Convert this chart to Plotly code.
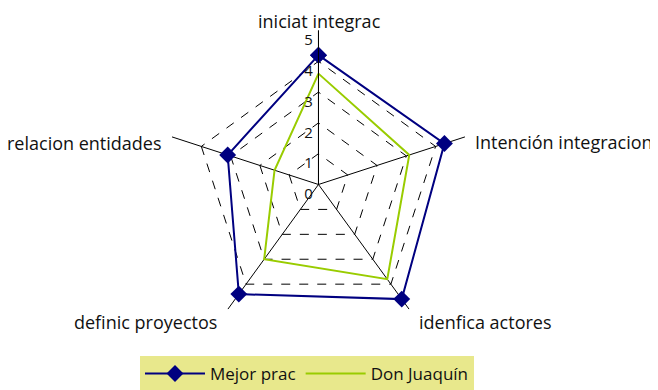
import plotly.graph_objects as go

categories = ["iniciat integrac", "Intención integracion", "idenfica actores",
              "definic proyectos", "relacion entidades"]
mejor_prac = [4.2, 4.3, 4.6, 4.4, 3.1]
don_juaquin = [3.6, 3.1, 3.8, 3.0, 1.5]
radial_ticks = [0, 1, 2, 3, 4, 5]

NAVY = "#000080"
LIME = "#99CC00"
FONT = "Open Sans"
W, H = 658, 390
OFF = 8  # page body margin shifts the figure by 8px

fig = go.Figure()
fig.add_trace(go.Scatterpolar(
    r=mejor_prac + mejor_prac[:1], theta=categories + categories[:1],
    name="Mejor prac", mode="lines+markers",
    line=dict(color=NAVY, width=2),
    marker=dict(symbol="diamond", size=13, color=NAVY),
))
fig.add_trace(go.Scatterpolar(
    r=don_juaquin + don_juaquin[:1], theta=categories + categories[:1],
    name="Don Juaquín", mode="lines",
    line=dict(color=LIME, width=2),
))

# category labels placed like the original (further out than plotly's default)
label_pos = [  # (x px, y px, xanchor) in window pixels
    (319, 21, "center"),
    (473, 142, "left"),
    (417, 322, "left"),
    (219, 322, "right"),
    (164, 143, "right"),
]
for name, (lx, ly, anchor) in zip(categories, label_pos):
    fig.add_annotation(
        text=name, xref="paper", yref="paper",
        x=(lx - OFF) / W, y=(H - ly + OFF) / H, xanchor=anchor, yanchor="middle",
        showarrow=False, font=dict(size=18, family=FONT, color="#111111"),
    )

fig.update_layout(
    width=W, height=H,
    paper_bgcolor="white",
    margin=dict(l=0, r=0, t=0, b=0),
    font=dict(family=FONT, size=18, color="#111111"),
    polar=dict(
        domain=dict(x=[0.2378, 0.7059], y=[0.1526, 0.9423]),
        bgcolor="white",
        gridshape="linear",
        radialaxis=dict(
            range=[0, 5], angle=90, tickangle=90,
            tickmode="array", tickvals=radial_ticks,
            ticktext=["<br>" + str(t) for t in radial_ticks],
            side="counterclockwise",
            showline=True, linecolor="black", linewidth=1,
            gridcolor="black", griddash="dash", gridwidth=1,
            tickfont=dict(size=15, family=FONT),
            ticks="",
        ),
        angularaxis=dict(
            rotation=90, direction="clockwise",
            showline=False, showticklabels=False,
            gridcolor="black", gridwidth=1,
            ticks="",
        ),
    ),
    showlegend=True,
    legend=dict(
        orientation="h", x=0.4544, xanchor="center", y=0.108, yanchor="top",
        bgcolor="#E8E88C", font=dict(size=17, family=FONT),
        itemwidth=60,
    ),
)

fig.write_html("out.html")
